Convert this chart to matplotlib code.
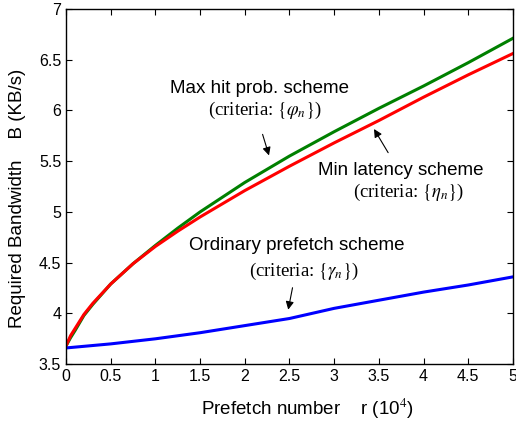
import numpy as np
import matplotlib
matplotlib.use("Agg")
import matplotlib.pyplot as plt
from matplotlib.ticker import FuncFormatter

plt.rcParams["font.family"] = "Liberation Sans"
plt.rcParams["mathtext.fontset"] = "stix"

# prefetch number r (10^4) and required bandwidth B (KB/s)
r_hit = [0, 0.05, 0.1, 0.2, 0.3, 0.5, 0.75, 1, 1.25, 1.5, 2, 2.5, 3, 3.5, 4, 4.5, 5]
b_hit = [3.68, 3.76, 3.83, 3.98, 4.09, 4.29, 4.49, 4.67, 4.84, 5.0, 5.29, 5.55,
         5.79, 6.02, 6.24, 6.47, 6.71]
r_lat = [0, 0.05, 0.1, 0.2, 0.3, 0.5, 0.75, 1, 1.25, 1.5, 2, 2.5, 3, 3.5, 4, 4.5, 5]
b_lat = [3.68, 3.78, 3.85, 3.99, 4.10, 4.29, 4.49, 4.66, 4.81, 4.95, 5.21, 5.45,
         5.68, 5.90, 6.13, 6.35, 6.56]
r_ord = [0, 0.5, 1, 1.5, 2, 2.5, 3, 3.5, 4, 4.5, 5]
b_ord = [3.66, 3.70, 3.75, 3.81, 3.88, 3.95, 4.05, 4.13, 4.21, 4.28, 4.36]

fig = plt.figure(figsize=(5.16, 4.22), dpi=100)
ax = fig.add_axes([0.128, 0.137, 0.866, 0.842])

ax.plot(r_hit, b_hit, color=(0, 0.5, 0), lw=2.2)
ax.plot(r_lat, b_lat, color="red", lw=2.2)
ax.plot(r_ord, b_ord, color="blue", lw=2.2)

ax.set_xlim(0, 5)
ax.set_ylim(3.5, 7)
ax.set_xticks(np.arange(0, 5.01, 0.5))
ax.set_yticks(np.arange(3.5, 7.01, 0.5))
fmt = FuncFormatter(lambda v, p: "%g" % v)
ax.xaxis.set_major_formatter(fmt)
ax.yaxis.set_major_formatter(fmt)
ax.tick_params(direction="in", top=True, right=True, labelsize=11.5, length=4)
for s in ax.spines.values():
    s.set_linewidth(1.0)

ax.set_xlabel("Prefetch number    r (10$^4$)", fontsize=13.5)
ax.set_ylabel("Required Bandwidth    B (KB/s)", fontsize=13.5)
ax.xaxis.set_label_coords(0.541, -0.092)
ax.yaxis.set_label_coords(-0.089, 0.468)

sans = 13.5
serif = dict(family="Liberation Serif", fontsize=13.5)
arrow = dict(arrowstyle="-|>", color="black", lw=0.8, mutation_scale=12)

ax.text(2.17, 6.22, "Max hit prob. scheme", fontsize=sans, ha="center", va="center")
ax.text(2.23, 6.0, r"(criteria: $\{\varphi_n\}$)", ha="center", va="center", **serif)
ax.annotate("", xy=(2.28, 5.53), xytext=(2.19, 5.79), arrowprops=arrow)

ax.text(3.74, 5.41, "Min latency scheme", fontsize=sans, ha="center", va="center")
ax.text(3.83, 5.19, r"(criteria: $\{\eta_n\}$)", ha="center", va="center", **serif)
ax.annotate("", xy=(3.43, 5.84), xytext=(3.62, 5.56), arrowprops=arrow)

ax.text(2.58, 4.67, "Ordinary prefetch scheme", fontsize=sans, ha="center", va="center")
ax.text(2.66, 4.41, r"(criteria: $\{\gamma_n\}$)", ha="center", va="center", **serif)
ax.annotate("", xy=(2.48, 4.01), xytext=(2.54, 4.28), arrowprops=arrow)

fig.savefig("out.png", dpi=100)
